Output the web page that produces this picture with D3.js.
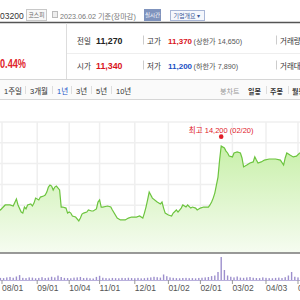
<!DOCTYPE html>
<html>
<head>
<meta charset="utf-8">
<script src="https://cdn.jsdelivr.net/npm/d3@7"></script>
<style>
  body { margin: 0; background: #fff; }
  text { font-family: "Liberation Sans", "Noto Sans CJK KR", sans-serif; }
</style>
</head>
<body>
<script>
const w = 300;
const h = 300;

// trading-day index (0 = 2022-08-01) and closing price
const days = [-2,-1,2,5,7,9,10,12,13,14,15,16,18,19,20,21,23,24,26,27,28,29,30,31,32,33,34,36,37,38,40,41,42,43,44,46,48,49,50,51,53,54,56,57,59,60,61,62,63,66,68,69,72,74,77,79,81,84,86,88,89,90,91,92,94,97,99,100,101,102,104,106,107,109,110,112,113,115,116,118,119,121,122,124,126,129,130,131,132,133,135,136,137,139,140,141,142,144,145,147,149,150,151,153,155,157,158,159,160,162,164,167,171,174,176,177,178,180,182,184,186,188];
const closes = [10790,10770,11010,11010,10960,11300,11010,10670,10620,10910,10820,11010,11060,10960,11100,11340,11250,11390,11440,11490,11630,11870,11970,11920,11730,11870,11920,11730,10910,10910,10860,10620,10670,10620,10480,10430,10240,10380,10570,10620,10670,10770,10720,10720,10820,11150,11250,10910,10910,10960,10910,10770,10380,10290,10290,10380,10430,10430,10480,10380,10620,10910,11250,11630,11340,11150,11060,11150,10860,10620,10530,10480,10620,10770,10670,10860,11010,10910,11010,10860,10910,10860,10770,10860,10910,10910,11010,11150,11340,11580,12350,13170,13850,13750,13600,13510,13360,13320,13510,13560,13510,13270,12840,12930,13030,13080,13320,13170,13030,13080,13170,13220,13220,13170,12930,13270,13510,13410,13320,13360,13510,13510];

// volume (thousand shares), every other trading day starting at day -1
const volDays = d3.range(-1, 187, 2);
const volumes = [420,380,520,610,450,700,980,430,380,520,
  470,350,420,560,390,480,650,520,880,600,
  420,380,350,470,520,610,390,440,350,300,
  620,840,450,380,330,410,370,350,420,380,
  450,390,360,420,330,370,450,520,640,560,
  480,1100,760,520,430,380,350,400,420,370,
  380,330,410,450,520,600,780,900,1600,4600,
  2000,900,650,520,700,480,430,520,600,450,
  400,380,520,430,370,350,420,480,390,560,
  900,1600,650,520];

const tickDays = [0,22,42,61,83,104,124,144,165,185];
const tickLabels = ["08/01","09/01","10/04","11/01","12/01","01/02","02/01","03/02","04/03","05/02"];
const gridPrices = [9000,10000,11000,12000,13000,14000,15000];

const maxDay = 137;
const maxPrice = 14200;
const maxLabel = "최고 14,200 (02/20)";

let svg = d3.select("body")
  .append("svg")
    .attr("width", w)
    .attr("height", h);

// ---------- header ----------
svg.append("text").attr("x", 0).attr("y", 18.5).attr("font-size", 8.5).attr("fill", "#333").text("03200");
svg.append("rect").attr("x", 26.5).attr("y", 9.5).attr("width", 20).attr("height", 11)
  .attr("fill", "#f7f7f7").attr("stroke", "#c8c8c8");
svg.append("text").attr("x", 36.5).attr("y", 17.3).attr("text-anchor", "middle")
  .attr("font-size", 5.8).attr("fill", "#666").text("코스피");
svg.append("rect").attr("x", 52.5).attr("y", 11.5).attr("width", 5).attr("height", 6)
  .attr("fill", "#eee").attr("stroke", "#bbb");
svg.append("text").attr("x", 60).attr("y", 18.5).attr("font-size", 7.2).attr("fill", "#777")
  .text("2023.06.02 기준(장마감)");
svg.append("rect").attr("x", 144).attr("y", 9).attr("width", 17).attr("height", 12).attr("fill", "#7f93bd");
svg.append("text").attr("x", 152.5).attr("y", 17.3).attr("text-anchor", "middle")
  .attr("font-size", 5.5).attr("fill", "#fff").text("실시간");
svg.append("rect").attr("x", 170.5).attr("y", 10.5).attr("width", 34).attr("height", 10)
  .attr("fill", "#f5f7fc").attr("stroke", "#a8b6d6");
svg.append("text").attr("x", 173.5).attr("y", 17.8).attr("font-size", 6).attr("fill", "#3b5897").text("기업개요 ▾");

svg.append("line").attr("x1", 0).attr("x2", w).attr("y1", 22.5).attr("y2", 22.5)
  .attr("stroke", "#555").attr("stroke-width", 1.5);
svg.append("line").attr("x1", 66.5).attr("x2", 66.5).attr("y1", 23).attr("y2", 79)
  .attr("stroke", "#ddd");
svg.append("line").attr("x1", 67).attr("x2", w).attr("y1", 53.5).attr("y2", 53.5)
  .attr("stroke", "#eee");

svg.append("text").attr("x", 0).attr("y", 68).attr("font-size", 12).attr("font-weight", "bold")
  .attr("textLength", 26).attr("lengthAdjust", "spacingAndGlyphs")
  .attr("fill", "#e0252b").text("0.44%");

const rows = [
  {y: 43.5, a: "전일", av: "11,270", ac: "#222", b: "고가", bv: "11,370", bc: "#d9141c", bn: "(상한가 14,650)", c: "거래량"},
  {y: 68.5, a: "시가", av: "11,340", ac: "#d9141c", b: "저가", bv: "11,200", bc: "#1a4fc4", bn: "(하한가 7,890)", c: "거래대금"}
];
rows.forEach(r => {
  svg.append("text").attr("x", 77).attr("y", r.y).attr("font-size", 7.5).attr("fill", "#333").text(r.a);
  svg.append("text").attr("x", 96).attr("y", r.y).attr("font-size", 8.8).attr("font-weight", "bold")
    .attr("fill", r.ac).text(r.av);
  svg.append("line").attr("x1", 143.5).attr("x2", 143.5).attr("y1", r.y - 8).attr("y2", r.y + 1).attr("stroke", "#ccc");
  svg.append("text").attr("x", 147).attr("y", r.y).attr("font-size", 7.5).attr("fill", "#333").text(r.b);
  svg.append("text").attr("x", 168).attr("y", r.y).attr("font-size", 8).attr("font-weight", "bold")
    .attr("fill", r.bc).text(r.bv);
  svg.append("text").attr("x", 193.5).attr("y", r.y).attr("font-size", 7.2).attr("fill", "#555").text(r.bn);
  svg.append("line").attr("x1", 276.5).attr("x2", 276.5).attr("y1", r.y - 8).attr("y2", r.y + 1).attr("stroke", "#ccc");
  svg.append("text").attr("x", 280).attr("y", r.y).attr("font-size", 7.5).attr("fill", "#333").text(r.c);
});

// ---------- tab bar ----------
svg.append("rect").attr("x", -1).attr("y", 79.5).attr("width", w + 2).attr("height", 20)
  .attr("fill", "#fafafa").attr("stroke", "#d6d6d6");
const tabs = [["1주일", 4], ["3개월", 30], ["1년", 57], ["3년", 76], ["5년", 96], ["10년", 116]];
tabs.forEach((t, i) => {
  svg.append("text").attr("x", t[1]).attr("y", 93.5).attr("font-size", 7.5)
    .attr("fill", t[0] == "1년" ? "#1a56c8" : "#333").text(t[0]);
  if (i > 0) svg.append("line").attr("x1", t[1] - 4.5).attr("x2", t[1] - 4.5).attr("y1", 86).attr("y2", 94).attr("stroke", "#ddd");
});
svg.append("text").attr("x", 220).attr("y", 93.5).attr("font-size", 7).attr("fill", "#999").text("봉차트");
[["일봉", 248], ["주봉", 270], ["월봉", 292]].forEach((t, i) => {
  svg.append("text").attr("x", t[1]).attr("y", 93.5).attr("font-size", 7).attr("font-weight", "bold")
    .attr("fill", "#333").text(t[0]);
  if (i > 0) svg.append("line").attr("x1", t[1] - 3.5).attr("x2", t[1] - 3.5).attr("y1", 86).attr("y2", 94).attr("stroke", "#ddd");
});

// ---------- price chart ----------
const x = d3.scaleLinear().domain([-1.25, 186.25]).range([0, w]);
const y = d3.scaleLinear().domain([8700, 15000]).range([253, 122]);
const yv = d3.scaleLinear().domain([0, 5000]).range([280, 255]);

svg.append("g").selectAll("line")
  .data(gridPrices)
  .enter().append("line")
    .attr("x1", 0).attr("x2", w)
    .attr("y1", d => y(d)).attr("y2", d => y(d))
    .attr("stroke", "#efefef").attr("stroke-width", 1.5);
svg.append("g").selectAll("line")
  .data(tickDays)
  .enter().append("line")
    .attr("x1", d => x(d)).attr("x2", d => x(d))
    .attr("y1", 122).attr("y2", 253)
    .attr("stroke", "#efefef").attr("stroke-width", 1.5);

let grad = svg.append("defs").append("linearGradient")
  .attr("id", "fillGrad").attr("gradientUnits", "userSpaceOnUse")
  .attr("x1", 0).attr("x2", 0).attr("y1", 140).attr("y2", 253);
grad.append("stop").attr("offset", "0%").attr("stop-color", "#c6efa6");
grad.append("stop").attr("offset", "100%").attr("stop-color", "#f6fcf1");

const series = days.map((d, i) => ({day: d, close: closes[i]}));

svg.append("path")
  .datum(series)
  .attr("fill", "url(#fillGrad)")
  .attr("d", d3.area().x(d => x(d.day)).y0(253).y1(d => y(d.close)));
svg.append("path")
  .datum(series)
  .attr("fill", "none")
  .attr("stroke", "#6cc43e")
  .attr("stroke-width", 1.2)
  .attr("d", d3.line().x(d => x(d.day)).y(d => y(d.close)));

svg.append("line").attr("x1", 0).attr("x2", w).attr("y1", 253).attr("y2", 253)
  .attr("stroke", "#777").attr("stroke-width", 1.5);

// max marker
svg.append("circle").attr("cx", x(maxDay)).attr("cy", y(maxPrice) - 2).attr("r", 2.3).attr("fill", "#e0202a");
svg.append("text").attr("x", x(maxDay)).attr("y", y(maxPrice) - 5.5).attr("text-anchor", "middle")
  .attr("font-size", 7.5).attr("fill", "#e0202a").text(maxLabel);

// ---------- volume ----------
svg.append("g").selectAll("rect")
  .data(volDays.map((d, i) => ({day: d, vol: volumes[i]})))
  .enter().append("rect")
    .attr("x", d => x(d.day) - 0.7)
    .attr("width", 1.4)
    .attr("y", d => yv(d.vol))
    .attr("height", d => 280 - yv(d.vol))
    .attr("fill", "#9d8fcd");
svg.append("line").attr("x1", 0).attr("x2", w).attr("y1", 280.5).attr("y2", 280.5)
  .attr("stroke", "#b9b0dc");

let xAxis = svg.append("g").attr("transform", "translate(0,280)");
xAxis.selectAll("line")
  .data(tickDays)
  .enter().append("line")
    .attr("x1", d => x(d)).attr("x2", d => x(d))
    .attr("y1", 0).attr("y2", 4)
    .attr("stroke", "#999");
xAxis.selectAll("text")
  .data(tickDays)
  .enter().append("text")
    .attr("x", d => x(d))
    .attr("y", 11)
    .attr("font-size", 8.5)
    .attr("fill", "#555")
    .text((d, i) => tickLabels[i]);
</script>
</body>
</html>
